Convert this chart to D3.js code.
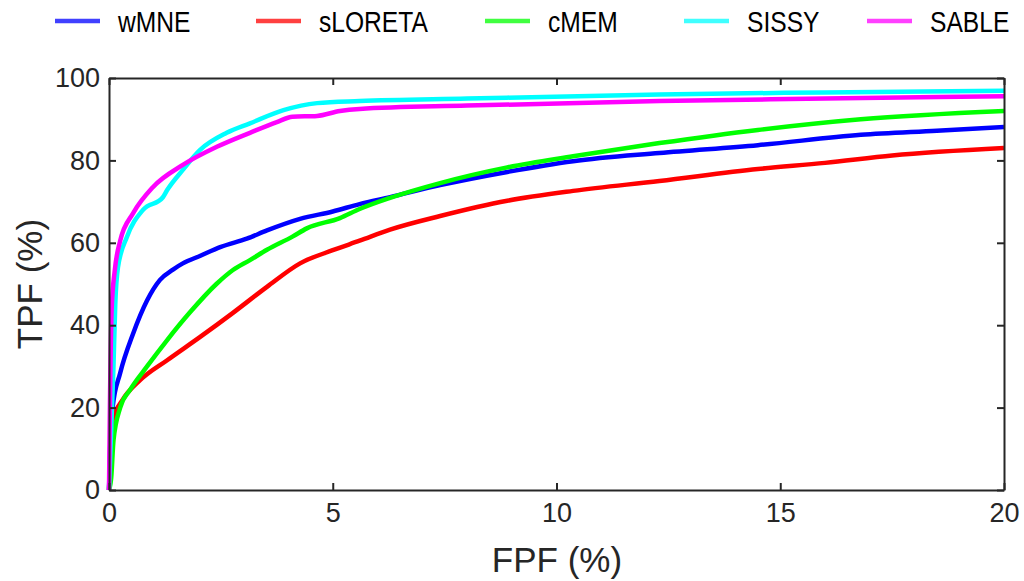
<!DOCTYPE html>
<html>
<head>
<meta charset="utf-8">
<script src="https://cdn.jsdelivr.net/npm/d3@7"></script>
<style>
  html, body { margin: 0; padding: 0; background: #fff; }
  svg { display: block; }
</style>
</head>
<body>
<svg id="chart" width="1024" height="581"></svg>
<script>
// ROC-style curves: true positive fraction vs false positive fraction (both in %)
const methods = ["wMNE", "sLORETA", "cMEM", "SISSY", "SABLE"];
const colors = ["#0000ff", "#ff0000", "#00ff00", "#00ffff", "#ff00ff"];

const xTicks = [0, 5, 10, 15, 20];
const yTicks = [0, 20, 40, 60, 80, 100];

// [FPF, TPF] pairs for each method
const wMNE = [[0,0],[0.03,12],[0.08,20],[0.25,28.4],[0.54,38],[0.85,46],[1.14,51],[1.43,53.5],[1.65,55],
  [2.03,56.8],[2.5,59],[3.08,61],[3.53,63],[4.27,65.8],[5,67.6],[5.6,69.4],[6.28,71.1],[7.4,74],
  [8.9,77.2],[10.37,79.8],[12.3,81.8],[14.5,83.7],[16.8,86.2],[18.5,87.2],[20,88.1]];
const sLORETA = [[0,0],[0.04,10],[0.08,17],[0.3,21.8],[0.7,26.7],[1.3,31.5],[2.03,37.1],[2.77,43],
  [3.53,49.3],[4.27,55],[5,58.2],[5.6,60.5],[6.28,63.2],[7.4,66.5],[8.9,70.2],[10.37,72.6],[12.3,75],
  [14.5,77.9],[16,79.4],[17.5,81.2],[20,83]];
const cMEM = [[0,0],[0.05,3],[0.1,12],[0.25,20],[0.47,24.3],[0.85,30],[1.3,36.4],[1.8,43],[2.4,50],
  [2.77,53.4],[3.15,55.8],[3.53,58.3],[4.1,61.5],[4.42,63.5],[5.16,66],[5.6,68.2],[6.28,70.9],
  [7.4,74.5],[8.9,78.3],[10.37,81],[12.3,84.2],[14.5,87.4],[16.8,90],[20,92]];
const SISSY = [[0,0],[0.06,18],[0.1,30],[0.14,45],[0.2,54],[0.4,61.4],[0.76,68],[1.2,71],[1.3,72.8],
  [1.65,77.7],[2.03,82.5],[2.63,86.7],[3.15,89],[3.9,92.2],[4.65,93.9],[5.6,94.4],[8,95],[12.3,96],
  [16,96.5],[20,96.9]];
const SABLE = [[0,0],[0.02,20],[0.06,44],[0.13,53.4],[0.25,60.5],[0.54,67.2],[0.98,73.5],[1.65,78.9],
  [2.41,83.3],[3.15,86.7],[3.75,89.3],[4.1,90.6],[4.65,90.8],[5.16,92],[5.6,92.5],[8,93.3],[12.3,94.4],
  [16,95],[20,95.6]];

const seriesData = [wMNE, sLORETA, cMEM, SISSY, SABLE];

const svg = d3.select("#chart");
const margin = { left: 109, right: 20, top: 78, bottom: 91 };
const W = 1024, H = 581;
const x = d3.scaleLinear().domain([0, 20]).range([margin.left, W - margin.right]);
const y = d3.scaleLinear().domain([0, 100]).range([H - margin.bottom, margin.top]);

const axisColor = "#262626";
const tickFont = "'Liberation Sans', Arial, sans-serif";

// curves
const line = d3.line().x(d => x(d[0])).y(d => y(d[1])).curve(d3.curveMonotoneX);
svg.append("clipPath").attr("id", "clip").append("rect")
  .attr("x", x(0) - 3).attr("y", y(100)).attr("width", x(20) - x(0) + 3).attr("height", y(0) - y(100) + 1);
const plot = svg.append("g").attr("clip-path", "url(#clip)");
seriesData.forEach((s, i) => {
  plot.append("path")
    .datum(s)
    .attr("d", line)
    .attr("fill", "none")
    .attr("stroke", colors[i])
    .attr("stroke-width", 4.5)
    .attr("stroke-linejoin", "round")
    .attr("stroke-linecap", "butt");
});

// axes with inward ticks on all four sides
function styleAxis(g) {
  g.selectAll("path.domain").attr("stroke", axisColor).attr("stroke-width", 2);
  g.selectAll(".tick line").attr("stroke", axisColor).attr("stroke-width", 2);
  g.selectAll(".tick text").attr("fill", axisColor).style("font-family", tickFont).style("font-size", "27px");
}
svg.append("g")
  .attr("transform", `translate(0,${y(0)})`)
  .call(d3.axisBottom(x).tickValues(xTicks).tickSizeInner(-7).tickSizeOuter(0).tickPadding(13).tickFormat(d3.format("d")))
  .call(styleAxis);
svg.append("g")
  .attr("transform", `translate(0,${y(100)})`)
  .call(d3.axisTop(x).tickValues(xTicks).tickSizeInner(-7).tickSizeOuter(0).tickFormat(""))
  .call(styleAxis);
svg.append("g")
  .attr("transform", `translate(${x(0)},0)`)
  .call(d3.axisLeft(y).tickValues(yTicks).tickSizeInner(-7).tickSizeOuter(0).tickPadding(9).tickFormat(d3.format("d")))
  .call(styleAxis);
svg.append("g")
  .attr("transform", `translate(${x(20)},0)`)
  .call(d3.axisRight(y).tickValues(yTicks).tickSizeInner(-7).tickSizeOuter(0).tickFormat(""))
  .call(styleAxis);

// axis titles
svg.append("text")
  .attr("x", 557)
  .attr("y", 572)
  .attr("text-anchor", "middle")
  .attr("fill", axisColor)
  .style("font-family", tickFont)
  .style("font-size", "35px")
  .text("FPF (%)");
svg.append("text")
  .attr("transform", `translate(42,${(y(0) + y(100)) / 2}) rotate(-90)`)
  .attr("text-anchor", "middle")
  .attr("fill", axisColor)
  .style("font-family", tickFont)
  .style("font-size", "35px")
  .text("TPF (%)");

// legend across the top (condensed lettering)
const legendX = [55, 256, 485, 684, 867];
const legend = svg.append("g");
methods.forEach((m, i) => {
  const g = legend.append("g").attr("transform", `translate(${legendX[i]},21)`);
  g.append("line").attr("x1", 0).attr("x2", 45).attr("y1", 0).attr("y2", 0)
    .attr("stroke", colors[i]).attr("stroke-width", 4.5).attr("stroke-opacity", 0.75);
  g.append("text")
    .attr("transform", "translate(63,11) scale(0.82,1)")
    .attr("fill", "#000")
    .style("font-family", tickFont)
    .style("font-size", "30px")
    .text(m);
});
</script>
</body>
</html>
